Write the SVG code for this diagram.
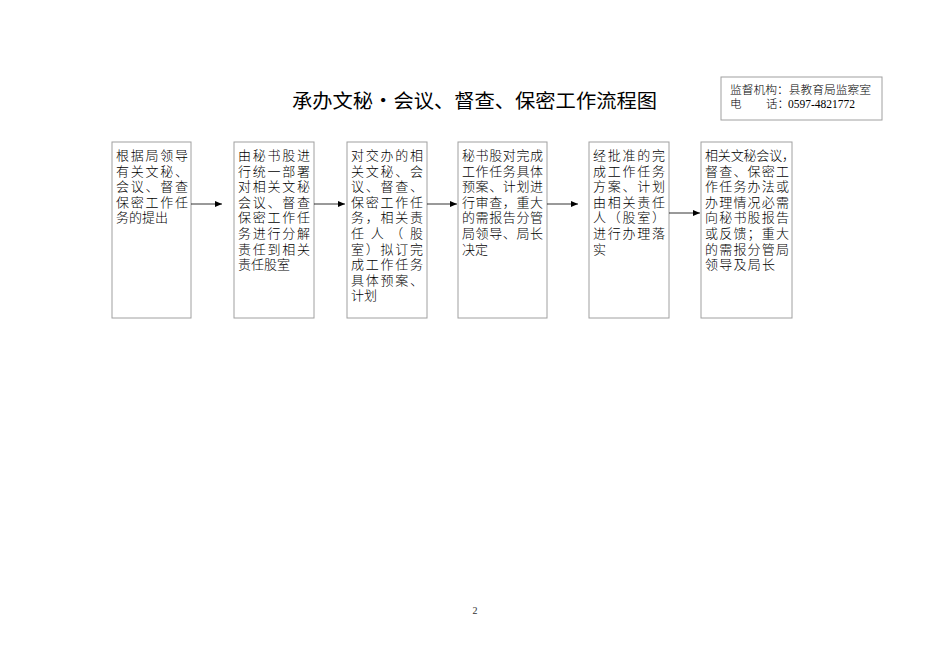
<svg xmlns="http://www.w3.org/2000/svg" width="950" height="672" viewBox="0 0 950 672">
<style>
.box{fill:#fff;stroke:#a0a0a0;stroke-width:1}
.t{font-family:"Noto Sans CJK SC","Liberation Serif",serif;font-size:13px;font-weight:300;fill:#000}
.c{stroke:#000;stroke-width:0.8;fill:none}
</style>
<defs>
<marker id="ah" markerWidth="8" markerHeight="6" refX="7" refY="3" orient="auto" markerUnits="userSpaceOnUse">
<path d="M0,0 L7,3 L0,6 Z" fill="#000"/>
</marker>
</defs>
<rect width="950" height="672" fill="#fff"/>
<text x="292" y="108" font-family="'Noto Sans CJK SC',sans-serif" font-size="19.5" textLength="365" lengthAdjust="spacingAndGlyphs">承办文秘·会议、督查、保密工作流程图</text>
<g id="info">
<rect x="721" y="77" width="161" height="43" fill="#fff" stroke="#a0a0a0"/>
<text x="730" y="94" font-family="'Noto Sans CJK SC',serif" font-weight="300" font-size="11.5" textLength="141" lengthAdjust="spacingAndGlyphs">监督机构：县教育局监察室</text>
<text x="730" y="108" font-family="'Liberation Serif','Noto Sans CJK SC',serif" font-size="11.5"><tspan font-family="'Noto Sans CJK SC',serif" font-weight="300">电</tspan><tspan x="766" font-family="'Noto Sans CJK SC',serif" font-weight="300">话：</tspan><tspan x="788">0597-4821772</tspan></text>
</g>
<g id="n1">
<rect class="box" x="112" y="142" width="79" height="176"/>
<text class="t"><tspan x="116" y="160" textLength="72" lengthAdjust="spacing">根据局领导</tspan><tspan x="116" y="175.6" textLength="72" lengthAdjust="spacing">有关文秘、</tspan><tspan x="116" y="191.2" textLength="72" lengthAdjust="spacing">会议、督查</tspan><tspan x="116" y="206.8" textLength="72" lengthAdjust="spacing">保密工作任</tspan><tspan x="116" y="222.4">务的提出</tspan></text>
</g>
<g id="n2">
<rect class="box" x="234" y="142" width="80" height="176"/>
<text class="t"><tspan x="238" y="160" textLength="72" lengthAdjust="spacing">由秘书股进</tspan><tspan x="238" y="175.6" textLength="72" lengthAdjust="spacing">行统一部署</tspan><tspan x="238" y="191.2" textLength="72" lengthAdjust="spacing">对相关文秘</tspan><tspan x="238" y="206.8" textLength="72" lengthAdjust="spacing">会议、督查</tspan><tspan x="238" y="222.4" textLength="72" lengthAdjust="spacing">保密工作任</tspan><tspan x="238" y="238" textLength="72" lengthAdjust="spacing">务进行分解</tspan><tspan x="238" y="253.6" textLength="72" lengthAdjust="spacing">责任到相关</tspan><tspan x="238" y="269.2">责任股室</tspan></text>
</g>
<g id="n3">
<rect class="box" x="347" y="142" width="80" height="176"/>
<text class="t"><tspan x="351" y="160" textLength="72" lengthAdjust="spacing">对交办的相</tspan><tspan x="351" y="175.6" textLength="72" lengthAdjust="spacing">关文秘、会</tspan><tspan x="351" y="191.2" textLength="72" lengthAdjust="spacing">议、督查、</tspan><tspan x="351" y="206.8" textLength="72" lengthAdjust="spacing">保密工作任</tspan><tspan x="351" y="222.4" textLength="72" lengthAdjust="spacing">务，相关责</tspan><tspan x="351" y="238" textLength="72" lengthAdjust="spacing">任人（股</tspan><tspan x="351" y="253.6" textLength="72" lengthAdjust="spacing">室）拟订完</tspan><tspan x="351" y="269.2" textLength="72" lengthAdjust="spacing">成工作任务</tspan><tspan x="351" y="284.8" textLength="72" lengthAdjust="spacing">具体预案、</tspan><tspan x="351" y="300.4">计划</tspan></text>
</g>
<g id="n4">
<rect class="box" x="458" y="142" width="89" height="176"/>
<text class="t"><tspan x="462" y="160" textLength="81" lengthAdjust="spacing">秘书股对完成</tspan><tspan x="462" y="175.6" textLength="81" lengthAdjust="spacing">工作任务具体</tspan><tspan x="462" y="191.2" textLength="81" lengthAdjust="spacing">预案、计划进</tspan><tspan x="462" y="206.8" textLength="81" lengthAdjust="spacing">行审查，重大</tspan><tspan x="462" y="222.4" textLength="81" lengthAdjust="spacing">的需报告分管</tspan><tspan x="462" y="238" textLength="81" lengthAdjust="spacing">局领导、局长</tspan><tspan x="462" y="253.6">决定</tspan></text>
</g>
<g id="n5">
<rect class="box" x="589" y="142" width="80" height="176"/>
<text class="t"><tspan x="593" y="160" textLength="72" lengthAdjust="spacing">经批准的完</tspan><tspan x="593" y="175.6" textLength="72" lengthAdjust="spacing">成工作任务</tspan><tspan x="593" y="191.2" textLength="72" lengthAdjust="spacing">方案、计划</tspan><tspan x="593" y="206.8" textLength="72" lengthAdjust="spacing">由相关责任</tspan><tspan x="593" y="222.4" textLength="72" lengthAdjust="spacing">人（股室）</tspan><tspan x="593" y="238" textLength="72" lengthAdjust="spacing">进行办理落</tspan><tspan x="593" y="253.6">实</tspan></text>
</g>
<g id="n6">
<rect class="box" x="701" y="142" width="91" height="176"/>
<text class="t"><tspan x="705" y="160" textLength="90" lengthAdjust="spacing">相关文秘会议，</tspan><tspan x="705" y="175.6" textLength="84" lengthAdjust="spacing">督查、保密工</tspan><tspan x="705" y="191.2" textLength="84" lengthAdjust="spacing">作任务办法或</tspan><tspan x="705" y="206.8" textLength="84" lengthAdjust="spacing">办理情况必需</tspan><tspan x="705" y="222.4" textLength="84" lengthAdjust="spacing">向秘书股报告</tspan><tspan x="705" y="238" textLength="84" lengthAdjust="spacing">或反馈；重大</tspan><tspan x="705" y="253.6" textLength="84" lengthAdjust="spacing">的需报分管局</tspan><tspan x="705" y="269.2" textLength="70" lengthAdjust="spacing">领导及局长</tspan></text>
</g>
<g id="connectors">
<line class="c" x1="191" y1="204" x2="222" y2="204" marker-end="url(#ah)"/>
<line class="c" x1="314" y1="204" x2="345" y2="204" marker-end="url(#ah)"/>
<line class="c" x1="427" y1="204" x2="457" y2="204" marker-end="url(#ah)"/>
<line class="c" x1="547" y1="204" x2="578" y2="204" marker-end="url(#ah)"/>
<line class="c" x1="669" y1="213" x2="700" y2="213" marker-end="url(#ah)"/>
</g>
<text x="475" y="614" text-anchor="middle" font-family="'Liberation Serif',serif" font-size="10" fill="#333">2</text>
</svg>
